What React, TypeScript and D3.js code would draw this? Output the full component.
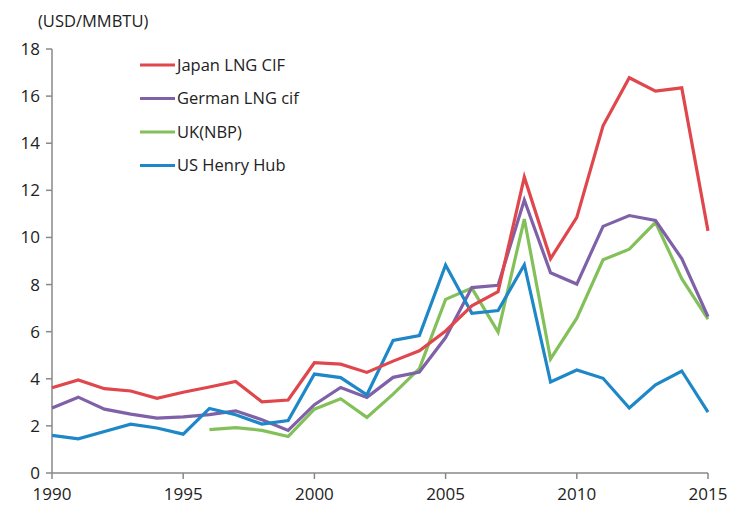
import React from 'react';
import * as d3 from 'd3';

const years = d3.range(1990, 2016);

const japanLng = [3.62, 3.95, 3.58, 3.48, 3.17, 3.43, 3.65, 3.89, 3.02, 3.1, 4.68, 4.62, 4.27, 4.75, 5.19, 6.03, 7.1, 7.7, 12.56, 9.1, 10.85, 14.74, 16.78, 16.21, 16.35, 10.28];
const germanLng = [2.76, 3.22, 2.71, 2.5, 2.33, 2.38, 2.48, 2.64, 2.26, 1.81, 2.9, 3.63, 3.21, 4.06, 4.29, 5.75, 7.87, 7.97, 11.59, 8.5, 8.02, 10.47, 10.93, 10.72, 9.1, 6.64];
const ukNbp: (number | null)[] = [null, null, null, null, null, null, 1.84, 1.93, 1.81, 1.55, 2.71, 3.15, 2.36, 3.35, 4.43, 7.37, 7.85, 5.98, 10.78, 4.84, 6.57, 9.05, 9.5, 10.64, 8.25, 6.53];
const usHenryHub = [1.6, 1.45, 1.76, 2.07, 1.91, 1.65, 2.74, 2.47, 2.08, 2.23, 4.2, 4.05, 3.32, 5.63, 5.83, 8.83, 6.78, 6.9, 8.84, 3.86, 4.37, 4.02, 2.76, 3.74, 4.33, 2.58];

const seriesNames = ['Japan LNG CIF', 'German LNG cif', 'UK(NBP)', 'US Henry Hub'];
const seriesColors = ['#E0474C', '#7F61A8', '#84C05A', '#1D87C8'];
const seriesValues = [japanLng, germanLng, ukNbp, usHenryHub];

const yTicks = [0, 2, 4, 6, 8, 10, 12, 14, 16, 18];
const xTicks = [1990, 1995, 2000, 2005, 2010, 2015];

const width = 729;
const height = 511;
const margin = { top: 49, right: 21, bottom: 38, left: 52 };
const axisColor = '#898989';
const font = "'Open Sans', 'Noto Sans', sans-serif";

const App: React.FC = () => {
  const x = d3.scaleLinear().domain([1990, 2015]).range([margin.left, width - margin.right]);
  const y = d3.scaleLinear().domain([0, 18]).range([height - margin.bottom, margin.top]);

  const line = d3.line<number | null>()
    .defined(d => d !== null)
    .x((_, i) => x(years[i]))
    .y(d => y(d as number));

  const legendX = 140;
  const legendY0 = 65;
  const legendStep = 33.5;

  return (
    <svg
      width={width}
      height={height}
      style={{ position: 'absolute', left: 0, top: 0, background: '#fff' }}
      fontFamily={font}
    >
      {/* units label */}
      <text x={38} y={27} fontSize={16.5} fill="#222">(USD/MMBTU)</text>

      {/* y axis */}
      <line x1={margin.left} x2={margin.left} y1={y(18)} y2={y(0)} stroke={axisColor} strokeWidth={1.5} />
      {yTicks.map(t => (
        <g key={t}>
          <line x1={margin.left - 6} x2={margin.left} y1={y(t)} y2={y(t)} stroke={axisColor} strokeWidth={1.5} />
          <text x={40} y={y(t)} dy="0.35em" textAnchor="end" fontSize={17} fill="#222">{t}</text>
        </g>
      ))}

      {/* x axis */}
      <line x1={x(1990)} x2={x(2015)} y1={y(0)} y2={y(0)} stroke={axisColor} strokeWidth={1.5} />
      {xTicks.map(t => (
        <g key={t}>
          <line x1={x(t)} x2={x(t)} y1={y(0)} y2={y(0) + 6} stroke={axisColor} strokeWidth={1.5} />
          <text x={x(t)} y={y(0) + 27} textAnchor="middle" fontSize={17} fill="#222">{t}</text>
        </g>
      ))}

      {/* series, drawn bottom to top */}
      {[2, 1, 3, 0].map(i => (
        <path
          key={seriesNames[i]}
          d={line(seriesValues[i]) || ''}
          fill="none"
          stroke={seriesColors[i]}
          strokeWidth={3.2}
          strokeLinejoin="miter"
        />
      ))}

      {/* legend */}
      {seriesNames.map((name, i) => (
        <g key={name} transform={`translate(${legendX},${legendY0 + i * legendStep})`}>
          <line x1={0} x2={35} y1={0} y2={0} stroke={seriesColors[i]} strokeWidth={3.2} />
          <text x={37} y={0} dy="0.35em" fontSize={16.5} fill="#222">{name}</text>
        </g>
      ))}
    </svg>
  );
};

export default App;
